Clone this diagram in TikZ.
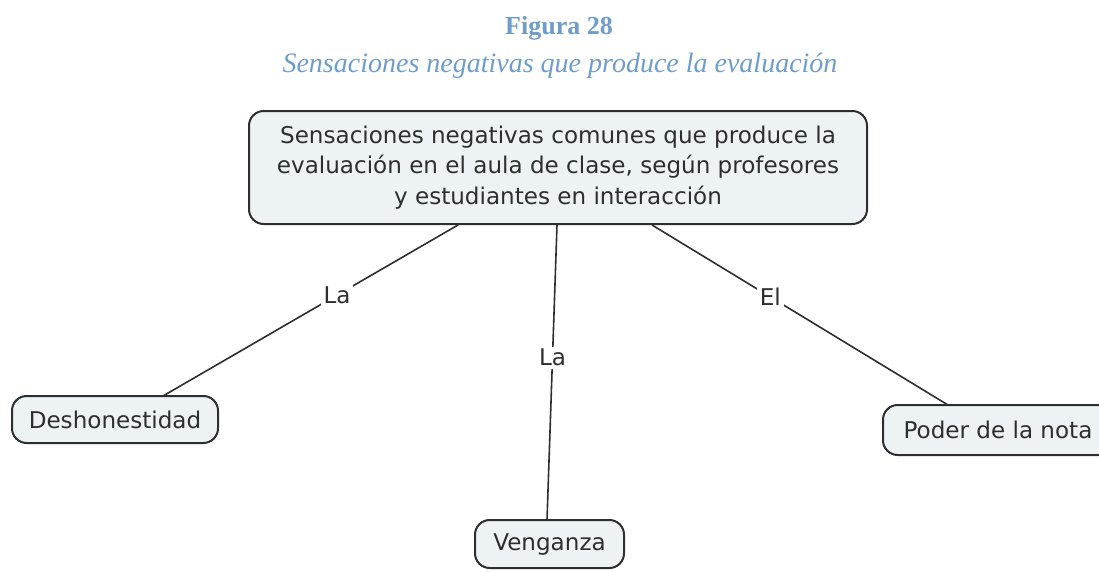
\documentclass[tikz,border=0pt]{standalone}
\usepackage{fontspec}
\setmainfont{Liberation Serif}
\newfontfamily\mapfont{DejaVu Sans}
\definecolor{titleblue}{HTML}{6E9DCB}
\definecolor{boxfill}{HTML}{EDF3F5}
\definecolor{ink}{HTML}{2E2E2E}
\begin{document}
\begin{tikzpicture}[x=0.75pt,y=-0.75pt,
  concept/.style={draw=ink, line width=1.5pt, fill=boxfill, rounded corners=11pt,
     font=\mapfont\fontsize{17.3}{23}\selectfont, text=ink, align=center, inner sep=0pt},
  link/.style={draw=ink, line width=1.2pt},
  lbl/.style={fill=white, font=\mapfont\fontsize{17.3}{19}\selectfont, text=ink, inner sep=2pt}]
\useasboundingbox (0,0) rectangle (1099,571);
\clip (0,0) rectangle (1099,571);
\node[font=\bfseries\fontsize{19.5}{22}\selectfont, text=titleblue] (title) at (559,28) {Figura 28};
\node[font=\itshape\fontsize{21}{24}\selectfont, text=titleblue] (subtitle) at (560,66) {Sensaciones negativas que produce la evaluación};
\node[concept, minimum width=618*0.75pt, minimum height=113*0.75pt] (main) at (558,167.5)
  {Sensaciones negativas comunes que produce la\\evaluación en el aula de clase, según profesores\\y estudiantes en interacción};
\node[concept, minimum width=206*0.75pt, minimum height=47*0.75pt] (desh) at (115,419.5) {Deshonestidad};
\node[concept, minimum width=149*0.75pt, minimum height=48*0.75pt] (veng) at (549.5,544) {Venganza};
\node[concept, minimum width=230*0.75pt, minimum height=50*0.75pt, anchor=west] (poder) at (882,430) {Poder de la nota};
\coordinate (m1) at (458,225);
\coordinate (m2) at (557,225);
\coordinate (m3) at (652,225);
\coordinate (d1) at (163,396);
\coordinate (v1) at (547,520);
\coordinate (p1) at (948,405);
\draw[link] (m1) -- node[lbl, pos=0.41] (la1) {La} (d1);
\draw[link] (m2) -- node[lbl, pos=0.45] (la2) {La} (v1);
\draw[link] (m3) -- node[lbl, pos=0.40] (el) {El} (p1);
\end{tikzpicture}
\end{document}
